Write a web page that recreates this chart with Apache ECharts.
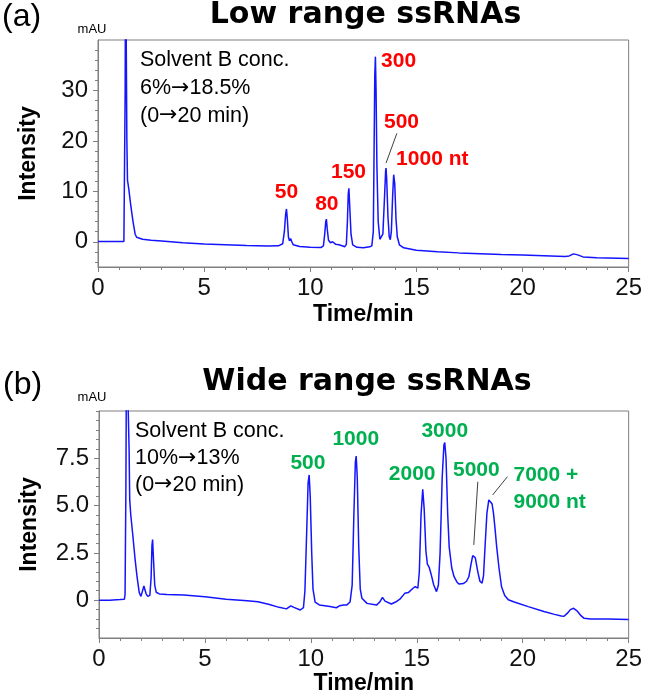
<!DOCTYPE html>
<html><head><meta charset="utf-8">
<script src="https://cdn.jsdelivr.net/npm/echarts@6/dist/echarts.min.js"></script>
<style>html,body{margin:0;padding:0;background:#fff}#c{width:645px;height:697px}</style>
</head><body><div id="c"></div>
<script>
// ---------- Data: panel (a) Low range ssRNAs ----------
const timeA = [0,0.5,1.0,1.22,1.25,1.28,1.3,1.33,1.36,1.39,1.45,1.55,1.65,1.75,1.82,1.9,2.1,2.5,3.0,4.0,5.0,6.0,7.0,8.0,8.5,8.7,8.78,8.84,8.88,8.92,8.97,9.02,9.08,9.12,9.2,9.5,10.0,10.5,10.62,10.68,10.73,10.76,10.8,10.86,10.95,11.05,11.1,11.2,11.35,11.5,11.62,11.7,11.75,11.79,11.82,11.86,11.92,12.0,12.2,12.5,12.8,12.9,12.97,13.0,13.04,13.07,13.1,13.14,13.2,13.28,13.35,13.42,13.5,13.55,13.57,13.6,13.66,13.72,13.77,13.82,13.88,13.93,13.95,13.98,14.04,14.1,14.2,14.4,15.0,16.0,17.0,18.0,19.0,20.0,21.0,22.0,22.2,22.4,22.6,22.85,23.5,24.0,25.0];
const intensityA = [0.05,0.05,0.05,0.05,0.2,30,60,40,20,12.2,10.5,7,4,1.5,0.9,0.7,0.5,0.3,0.15,-0.2,-0.45,-0.6,-0.75,-0.85,-0.8,-0.4,2,5.5,6.5,4.5,1,0.2,0.6,0.1,-0.6,-0.95,-1.1,-1.15,-0.8,1.5,4.0,4.5,2.5,0.3,-0.2,0.0,-0.3,-0.5,-0.6,-0.8,-1.0,-0.5,4,9.5,10.6,7,1.5,-0.6,-1.1,-1.2,-1.0,-0.8,2,15,33,36.7,30,15,4,0.5,0.3,1.5,9,14,14.6,12.5,5,1,0.4,2,9,13.3,13.6,11.5,4.5,1,-0.6,-1.2,-1.7,-2.0,-2.2,-2.35,-2.5,-2.6,-2.75,-2.9,-2.8,-2.4,-2.6,-3.0,-3.15,-3.2,-3.3];
const peakLabelsA = ['50','80','150','300','500','1000 nt'];
const peakLabelTimeA = [8.88,10.78,11.8,14.16,14.3,15.75];
const peakLabelValueA = [9.9,7.5,13.7,35.8,23.7,16.4];
const leaderA = [[14.08,21.5],[13.57,15.6]];
const xTickValues = [0,5,10,15,20,25];
const yTickValuesA = [0,10,20,30];
const yTickLabelsA = ['0','10','20','30'];
const yMinorA = [-4,-2,2,4,6,8,12,14,16,18,22,24,26,28,32,34,36,38];

// ---------- Data: panel (b) Wide range ssRNAs ----------
const timeB = [0,0.5,1.0,1.2,1.23,1.27,1.3,1.38,1.42,1.45,1.5,1.59,1.7,1.8,1.9,1.98,2.05,2.12,2.16,2.22,2.3,2.4,2.46,2.5,2.53,2.57,2.63,2.7,2.85,3.2,4.0,5.0,6.0,7.0,7.5,8.0,8.5,8.85,9.05,9.2,9.5,9.65,9.72,9.8,9.87,9.92,9.97,10.04,10.1,10.2,10.4,10.9,11.2,11.35,11.44,11.55,11.7,11.85,11.95,12.03,12.1,12.14,12.19,12.26,12.33,12.41,12.65,13.1,13.25,13.38,13.5,13.8,14.0,14.2,14.43,14.6,14.82,14.93,15.05,15.12,15.2,15.28,15.35,15.43,15.5,15.58,15.67,15.8,15.93,16.02,16.1,16.2,16.28,16.32,16.38,16.46,16.53,16.65,16.76,16.9,17.0,17.2,17.35,17.46,17.56,17.64,17.69,17.76,17.88,17.98,18.08,18.15,18.22,18.31,18.4,18.47,18.55,18.62,18.7,18.77,18.88,19.0,19.15,19.32,19.6,20.26,21.0,21.5,21.82,21.95,22.1,22.25,22.4,22.55,22.75,22.9,23.2,24.0,25.0];
const intensityB = [0.0,0.0,0.03,0.05,0.3,6,14,14,8,5.3,4.5,3.5,2.2,1.2,0.4,0.2,0.3,0.75,0.8,0.35,0.2,0.25,1.2,2.9,3.2,2.2,0.8,0.42,0.33,0.3,0.27,0.18,0.05,-0.03,-0.08,-0.22,-0.38,-0.46,-0.3,-0.38,-0.52,-0.4,0.5,3.5,6.2,6.62,5.5,2.5,0.6,-0.1,-0.25,-0.34,-0.4,-0.3,-0.2,-0.26,-0.25,-0.1,0.8,4.5,7.3,7.62,6.5,2.8,0.6,0.1,-0.17,-0.26,-0.1,0.15,-0.05,-0.2,-0.1,0.05,0.36,0.4,0.63,0.72,0.63,1.5,4.5,5.86,4.8,2.6,1.9,1.75,1.4,0.8,0.45,0.8,2.5,6.5,8.2,8.33,7.5,4.5,2.8,1.7,1.24,0.95,0.85,0.88,1.0,1.25,1.9,2.35,2.44,2.25,1.5,1.0,0.9,1.3,2.8,4.6,5.3,5.38,5.1,4.6,3.7,2.83,1.7,0.71,0.25,0.02,-0.1,-0.34,-0.6,-0.75,-0.84,-0.85,-0.7,-0.5,-0.43,-0.55,-0.82,-0.96,-1.0,-1.0,-1.02];
const peakLabelsB = ['500','1000','2000','3000','5000'];
const peakLabelTimeB = [9.86,12.12,14.78,16.32,17.81];
const peakLabelValueB = [7.25,8.52,6.67,8.94,6.88];
const sideLabelB = {text: '7000 +\n9000 nt', time: 19.54, value: 5.91};
const leaderB1 = [[17.88,6.26],[17.69,2.92]];
const leaderB2 = [[19.28,6.53],[18.58,5.56]];
const yTickValuesB = [0,2.5,5,7.5];
const yTickLabelsB = ['0','2.5','5.0','7.5'];
const yMinorB = [-1.5,-1,-0.5,0.5,1,1.5,2,3,3.5,4,4.5,5.5,6,6.5,7,8,8.5,9,9.5,10];

// ---------- Styling ----------
const AX = '#7f7f7f';
const FONT = '"Liberation Sans", Arial, sans-serif';
const TRACE = '#1414ff';
const RED = '#ff0000';
const GREEN = '#00b050';

function zip(a, b) { return a.map((v, i) => [v, b[i]]); }

function xAxisFor(gi, gap) {
  return {
    type: 'value', gridIndex: gi, min: 0, max: 25, interval: 5,
    name: 'Time/min', nameLocation: 'middle', nameGap: gap,
    nameTextStyle: {fontFamily: FONT, fontSize: 23, fontWeight: 'bold', color: '#000'},
    axisLine: {onZero: false, lineStyle: {color: AX, width: 1}},
    axisTick: {show: true, length: 5, lineStyle: {color: AX}},
    minorTick: {show: true, splitNumber: 5, length: 3, lineStyle: {color: AX}},
    axisLabel: {fontFamily: FONT, fontSize: 24, color: '#111', margin: 9,
      formatter: v => xTickValues.indexOf(v) >= 0 ? String(v) : ''},
    splitLine: {show: false}, minorSplitLine: {show: false}
  };
}
function yAxisMain(gi, min, max, vals, labels) {
  return {
    type: 'value', gridIndex: gi, min: min, max: max, position: 'left',
    name: 'Intensity', nameLocation: 'middle', nameGap: 58,
    nameTextStyle: {fontFamily: FONT, fontSize: 23, fontWeight: 'bold', color: '#000'},
    axisLine: {show: true, lineStyle: {color: AX, width: 1}},
    axisTick: {show: true, customValues: vals, length: 5, lineStyle: {color: AX}},
    axisLabel: {customValues: vals, fontFamily: FONT, fontSize: 24, color: '#111', margin: 10,
      formatter: v => { const i = vals.indexOf(v); return i >= 0 ? labels[i] : ''; }},
    splitLine: {show: false}
  };
}
function yAxisMinor(gi, min, max, vals) {
  return {
    type: 'value', gridIndex: gi, min: min, max: max, position: 'left',
    axisLine: {show: false},
    axisTick: {show: true, customValues: vals, length: 3, lineStyle: {color: AX}},
    axisLabel: {show: false}, splitLine: {show: false}
  };
}
function labelSeries(xi, yi, texts, times, values, color) {
  return {
    type: 'scatter', xAxisIndex: xi, yAxisIndex: yi, symbolSize: 1,
    itemStyle: {color: 'rgba(0,0,0,0)', opacity: 1}, silent: true, clip: false, z: 5,
    data: texts.map((t, i) => ({value: [times[i], values[i]], name: t})),
    label: {show: true, position: 'inside', formatter: p => p.name,
      fontFamily: FONT, fontSize: 21, fontWeight: 'bold', color: color}
  };
}
function leaderSeries(xi, yi, pts) {
  return {type: 'line', xAxisIndex: xi, yAxisIndex: yi, data: pts, symbol: 'none',
    lineStyle: {color: '#404040', width: 1}, silent: true};
}
const ARROW = '{a|\u2192}';
const richArrow = {a: {fontFamily: '"DejaVu Sans", sans-serif', fontSize: 22, fill: '#000'}};

const chart = echarts.init(document.getElementById('c'), null, {renderer: 'canvas'});
chart.setOption({
  backgroundColor: '#fff',
  animation: false,
  grid: [
    {left: 98, top: 40, width: 535, height: 227, show: true, borderColor: AX, borderWidth: 1, backgroundColor: 'transparent'},
    {left: 99, top: 411, width: 536, height: 227, show: true, borderColor: AX, borderWidth: 1, backgroundColor: 'transparent'}
  ],
  xAxis: [xAxisFor(0, 36), xAxisFor(1, 31)],
  yAxis: [
    yAxisMain(0, -5, 40, yTickValuesA, yTickLabelsA),
    yAxisMinor(0, -5, 40, yMinorA),
    yAxisMain(1, -2, 10, yTickValuesB, yTickLabelsB),
    yAxisMinor(1, -2, 10, yMinorB)
  ],
  series: [
    {type: 'line', xAxisIndex: 0, yAxisIndex: 0, data: zip(timeA, intensityA), symbol: 'none',
      lineStyle: {color: TRACE, width: 1.5}, clip: true, silent: true},
    {type: 'line', xAxisIndex: 1, yAxisIndex: 2, data: zip(timeB, intensityB), symbol: 'none',
      lineStyle: {color: TRACE, width: 1.5}, clip: true, silent: true},
    leaderSeries(0, 0, leaderA),
    leaderSeries(1, 2, leaderB1),
    leaderSeries(1, 2, leaderB2),
    labelSeries(0, 0, peakLabelsA, peakLabelTimeA, peakLabelValueA, RED),
    labelSeries(1, 2, peakLabelsB, peakLabelTimeB, peakLabelValueB, GREEN),
    {type: 'scatter', xAxisIndex: 1, yAxisIndex: 2, symbolSize: 1, itemStyle: {color: 'rgba(0,0,0,0)', opacity: 1}, silent: true, clip: false, z: 5,
      data: [{value: [sideLabelB.time, sideLabelB.value], name: sideLabelB.text}],
      label: {show: true, position: 'right', distance: 0, align: 'left', formatter: p => p.name,
        fontFamily: FONT, fontSize: 21, fontWeight: 'bold', color: GREEN, lineHeight: 27}}
  ],
  graphic: [
    {type: 'text', x: 2, y: 17, style: {text: '(a)', fontFamily: FONT, fontSize: 32, fill: '#000', align: 'left', verticalAlign: 'middle'}},
    {type: 'text', x: 3, y: 385, style: {text: '(b)', fontFamily: FONT, fontSize: 32, fill: '#000', align: 'left', verticalAlign: 'middle'}},
    {type: 'text', x: 365.5, y: 15, style: {text: 'Low range ssRNAs', fontFamily: '"DejaVu Sans", sans-serif', fontSize: 30, fontWeight: 'bold', fill: '#000', align: 'center', verticalAlign: 'middle'}},
    {type: 'text', x: 367, y: 382, style: {text: 'Wide range ssRNAs', fontFamily: '"DejaVu Sans", sans-serif', fontSize: 30, fontWeight: 'bold', fill: '#000', align: 'center', verticalAlign: 'middle'}},
    {type: 'text', x: 92, y: 29, style: {text: 'mAU', fontFamily: FONT, fontSize: 13, fill: '#000', align: 'center', verticalAlign: 'middle'}},
    {type: 'text', x: 92, y: 397, style: {text: 'mAU', fontFamily: FONT, fontSize: 13, fill: '#000', align: 'center', verticalAlign: 'middle'}},
    {type: 'text', x: 140, y: 46.5, style: {text: 'Solvent B conc.\n6%' + ARROW + '18.5%\n(0' + ARROW + '20 min)', rich: richArrow, fontFamily: FONT, fontSize: 21.5, lineHeight: 27.7, fill: '#000', align: 'left', verticalAlign: 'top'}},
    {type: 'text', x: 135, y: 418, style: {text: 'Solvent B conc.\n10%' + ARROW + '13%\n(0' + ARROW + '20 min)', rich: richArrow, fontFamily: FONT, fontSize: 21.5, lineHeight: 26.7, fill: '#000', align: 'left', verticalAlign: 'top'}}
  ]
});
</script></body></html>
